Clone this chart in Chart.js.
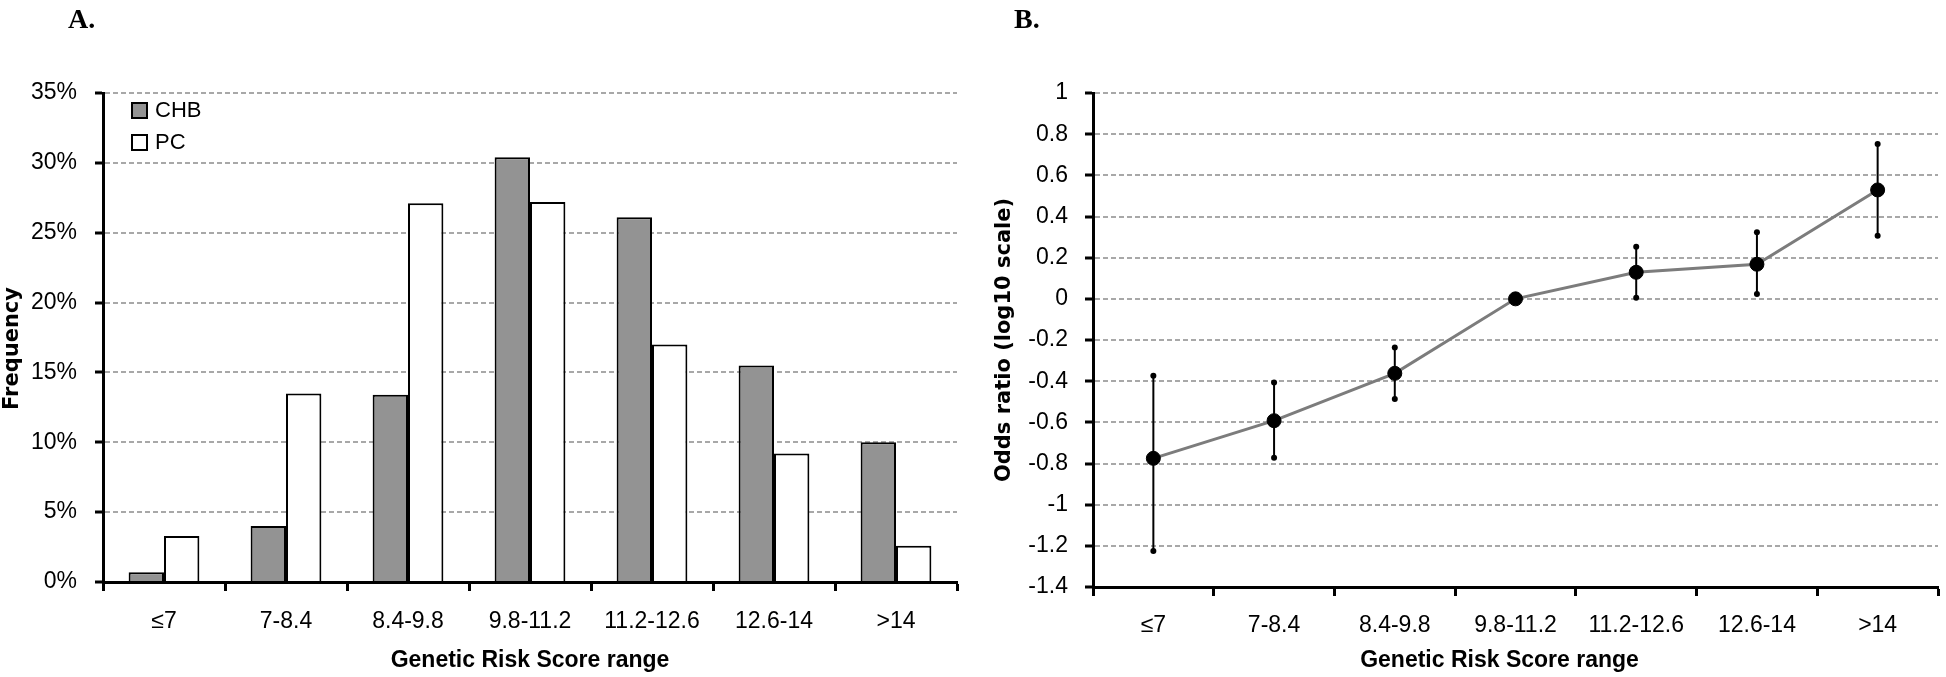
<!DOCTYPE html>
<html lang="en">
<head>
    <meta charset="UTF-8">
    <title>Genetic Risk Score</title>
    <script src="https://cdn.jsdelivr.net/npm/chart.js"></script>
    <style>
        body { margin: 0; background: #fff; }
        #wrap { position: relative; width: 1946px; height: 677px; }
        canvas { position: absolute; top: 0; }
        .panel { position: absolute; top: 5px; font: bold 28px "Liberation Serif", serif; line-height: 28px; }
    </style>
</head>
<body>
    <div id="wrap">
        <canvas id="chartA" width="975" height="677" style="left:0"></canvas>
        <canvas id="chartB" width="971" height="677" style="left:975px"></canvas>
        <div class="panel" style="left:68px">A.</div>
        <div class="panel" style="left:1014px">B.</div>
    </div>
    <script>
        // x categories, shared by both panels
        const grsRanges = ['≤7', '7-8.4', '8.4-9.8', '9.8-11.2', '11.2-12.6', '12.6-14', '>14'];

        // panel A: frequency (%)
        const chbFreq = [0.7, 4.0, 13.4, 30.4, 26.1, 15.5, 10.0];
        const pcFreq = [3.3, 13.5, 27.1, 27.2, 17.0, 9.2, 2.6];

        // panel B: odds ratio (log10) with CI
        const orPoint = [-0.775, -0.592, -0.362, 0, 0.129, 0.168, 0.529];
        const orLow = [-1.225, -0.772, -0.487, null, 0.005, 0.023, 0.306];
        const orHigh = [-0.374, -0.406, -0.236, null, 0.253, 0.323, 0.752];

        Chart.defaults.font.family = '"Liberation Sans", Arial, sans-serif';
        Chart.defaults.color = '#000';

        const tickFont = { size: 23 };
        const titleFont = { size: 23, weight: 'bold' };
        const sideTitleFont = { family: '"DejaVu Sans", Verdana, sans-serif', size: 21, weight: 'bold' };

        // legend boxes drawn inside the plot, top left
        const boxLegend = {
            id: 'boxLegend',
            afterDraw(chart) {
                const ctx = chart.ctx;
                const area = chart.chartArea;
                ctx.save();
                chart.data.datasets.forEach((ds, i) => {
                    const bx = area.left + 29;
                    const by = area.top + 10 + i * 32;
                    ctx.fillStyle = ds.backgroundColor;
                    ctx.fillRect(bx, by, 15, 15);
                    ctx.strokeStyle = '#000';
                    ctx.lineWidth = 2;
                    ctx.strokeRect(bx, by, 15, 15);
                    ctx.fillStyle = '#000';
                    ctx.font = '22px "Liberation Sans", Arial, sans-serif';
                    ctx.textBaseline = 'middle';
                    ctx.fillText(ds.label, bx + 23, by + 8);
                });
                ctx.restore();
            }
        };

        // vertical CI whiskers with dot ends
        const errorBars = {
            id: 'errorBars',
            beforeDatasetsDraw(chart) {
                const ctx = chart.ctx;
                const x = chart.scales.x;
                const y = chart.scales.y;
                ctx.save();
                ctx.strokeStyle = '#000';
                ctx.fillStyle = '#000';
                ctx.lineWidth = 2;
                grsRanges.forEach((lab, i) => {
                    if (orLow[i] === null) return;
                    const px = x.getPixelForValue(i);
                    const lo = y.getPixelForValue(orLow[i]);
                    const hi = y.getPixelForValue(orHigh[i]);
                    ctx.beginPath();
                    ctx.moveTo(px, lo);
                    ctx.lineTo(px, hi);
                    ctx.stroke();
                    [lo, hi].forEach(py => {
                        ctx.beginPath();
                        ctx.arc(px, py, 3, 0, Math.PI * 2);
                        ctx.fill();
                    });
                });
                ctx.restore();
            }
        };

        // trailing spaces nudge the centred title a little, as in the original
        function xAxis(height, labelPad, titleText) {
            return {
                afterFit: s => { s.height = height; },
                offset: true,
                grid: { offset: true, drawOnChartArea: false, tickColor: '#000', tickWidth: 3, tickLength: 9 },
                border: { color: '#000', width: 3, z: 1 },
                ticks: { font: tickFont, padding: labelPad, maxRotation: 0, autoSkip: false },
                title: { display: true, text: titleText, font: titleFont, padding: { top: 0, bottom: 3 } }
            };
        }

        const yGrid = { color: '#a8a8a8', lineWidth: 2, tickColor: '#000', tickWidth: 3, tickLength: 8, tickBorderDash: [] };

        new Chart(document.getElementById('chartA'), {
            type: 'bar',
            data: {
                labels: grsRanges,
                datasets: [
                    { label: 'CHB', data: chbFreq, backgroundColor: '#939393', borderColor: '#000', borderWidth: 2 },
                    { label: 'PC', data: pcFreq, backgroundColor: '#fff', borderColor: '#000', borderWidth: 2 }
                ]
            },
            options: {
                responsive: false,
                animation: false,
                layout: { padding: { top: 93, right: 18, left: 0, bottom: 0 } },
                datasets: { bar: { barPercentage: 1.0, categoryPercentage: 0.58 } },
                plugins: { legend: { display: false }, tooltip: { enabled: false } },
                scales: {
                    x: xAxis(95, 17, 'Genetic Risk Score range'),
                    y: {
                        afterFit: s => { s.width = 103; },
                        min: 0,
                        max: 35,
                        ticks: { stepSize: 5, font: tickFont, padding: 18, callback: v => v + '%' },
                        grid: yGrid,
                        border: { color: '#000', width: 3, dash: [5, 3], z: 1 },
                        title: { display: true, text: 'Frequency   ', font: sideTitleFont, padding: { top: 0, bottom: 0 } }
                    }
                }
            },
            plugins: [boxLegend]
        });

        new Chart(document.getElementById('chartB'), {
            type: 'line',
            data: {
                labels: grsRanges,
                datasets: [{
                    label: 'Odds ratio',
                    data: orPoint,
                    borderColor: '#7c7c7c',
                    borderWidth: 3,
                    tension: 0,
                    pointRadius: 7,
                    pointBackgroundColor: '#000',
                    pointBorderColor: '#000',
                    pointBorderWidth: 1
                }]
            },
            options: {
                responsive: false,
                animation: false,
                layout: { padding: { top: 93, right: 6, left: 0, bottom: 0 } },
                plugins: { legend: { display: false }, tooltip: { enabled: false } },
                scales: {
                    x: xAxis(90, 16, 'Genetic Risk Score range     '),
                    y: {
                        afterFit: s => { s.width = 118; },
                        min: -1.4,
                        max: 1,
                        ticks: { stepSize: 0.2, font: tickFont, padding: 17, callback: v => String(+v.toFixed(1)) },
                        grid: yGrid,
                        border: { color: '#000', width: 3, dash: [5, 3], z: 1 },
                        title: { display: true, text: 'Odds ratio (log10 scale)', font: sideTitleFont, padding: { top: 17, bottom: 0 } }
                    }
                }
            },
            plugins: [errorBars]
        });
    </script>
</body>
</html>
